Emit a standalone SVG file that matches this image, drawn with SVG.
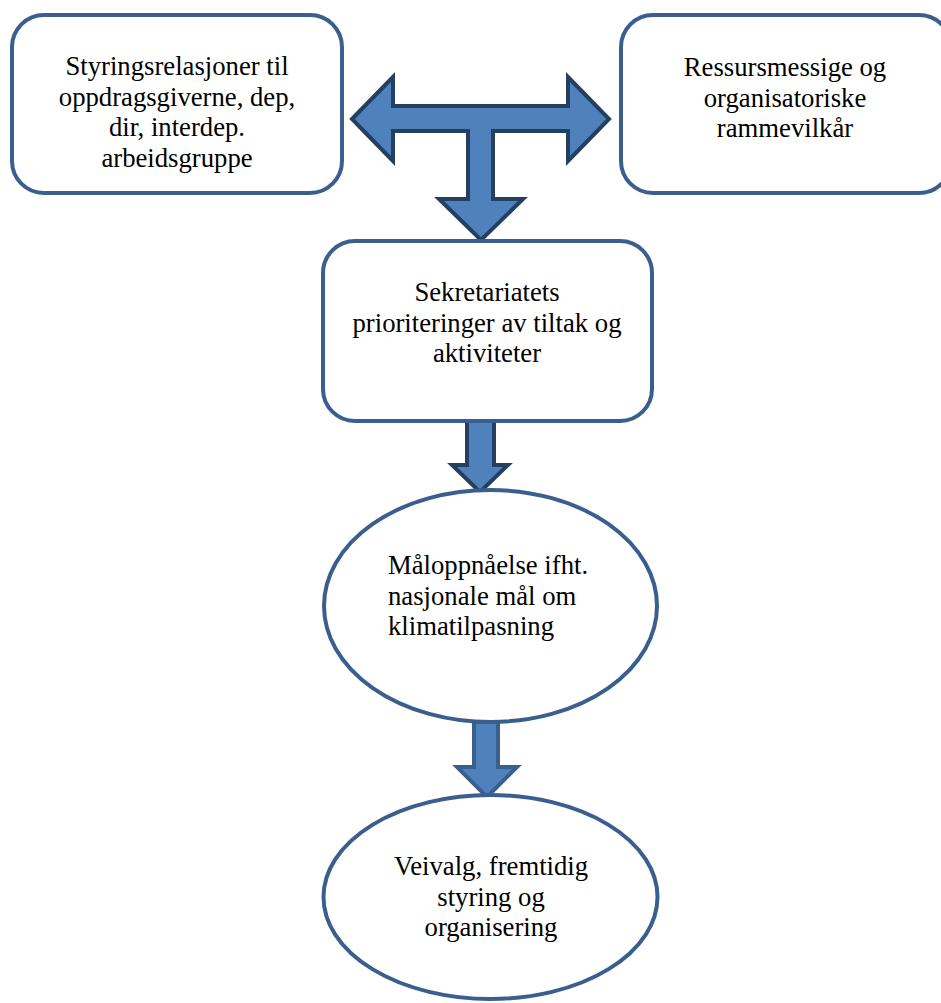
<svg xmlns="http://www.w3.org/2000/svg" width="941" height="1003" viewBox="0 0 941 1003">
<style>
.node{fill:#ffffff;stroke:#3a5f8f;stroke-width:4}
.arr{fill:#4f81bd;stroke:#243f60;stroke-width:4;stroke-linejoin:miter}
.arr2{fill:#4f81bd;stroke:#3a5f8f;stroke-width:4}
text{font-family:"Liberation Serif","Times New Roman",serif;font-size:26.7px;fill:#000}
.c{text-anchor:middle}
</style>
<rect width="941" height="1003" fill="#ffffff"/>
<g id="connectors">
<polygon class="arr" points="352,119 393,77 393,106 568,106 568,77 609,119 568,161 568,131 493,131 493,199 523,199 481,240 439,199 468,199 468,131 393,131 393,161"/>
<polygon class="arr" points="467,418 494,418 494,465 508,465 480,492 452,465 467,465"/>
<polygon class="arr2" points="474,722 498,722 498,767 517,767 487,797 457,767 474,767"/>
</g>
<g id="node-styring">
<rect class="node" x="12" y="15" width="330" height="178" rx="32"/>
<text class="c" x="177" y="75">Styringsrelasjoner til</text>
<text class="c" x="177" y="105.7">oppdragsgiverne, dep,</text>
<text class="c" x="177" y="136.4">dir, interdep.</text>
<text class="c" x="177" y="167">arbeidsgruppe</text>
</g>
<g id="node-ressurs">
<rect class="node" x="621" y="15" width="330" height="178" rx="32"/>
<text class="c" x="785" y="76">Ressursmessige og</text>
<text class="c" x="785" y="106.7">organisatoriske</text>
<text class="c" x="785" y="137.4">rammevilkår</text>
</g>
<g id="node-sekretariat">
<rect class="node" x="323" y="241" width="329" height="180" rx="32"/>
<text class="c" x="487" y="301">Sekretariatets</text>
<text class="c" x="487" y="331.7">prioriteringer av tiltak og</text>
<text class="c" x="487" y="362.4">aktiviteter</text>
</g>
<g id="node-maloppnaelse">
<ellipse class="node" cx="490.5" cy="606" rx="166.5" ry="116"/>
<text x="388" y="574">Måloppnåelse ifht.</text>
<text x="388" y="604.7">nasjonale mål om</text>
<text x="388" y="635.4">klimatilpasning</text>
</g>
<g id="node-veivalg">
<ellipse class="node" cx="490.5" cy="897" rx="167" ry="102"/>
<text class="c" x="491" y="875">Veivalg, fremtidig</text>
<text class="c" x="491" y="905.7">styring og</text>
<text class="c" x="491" y="936.4">organisering</text>
</g>
</svg>
